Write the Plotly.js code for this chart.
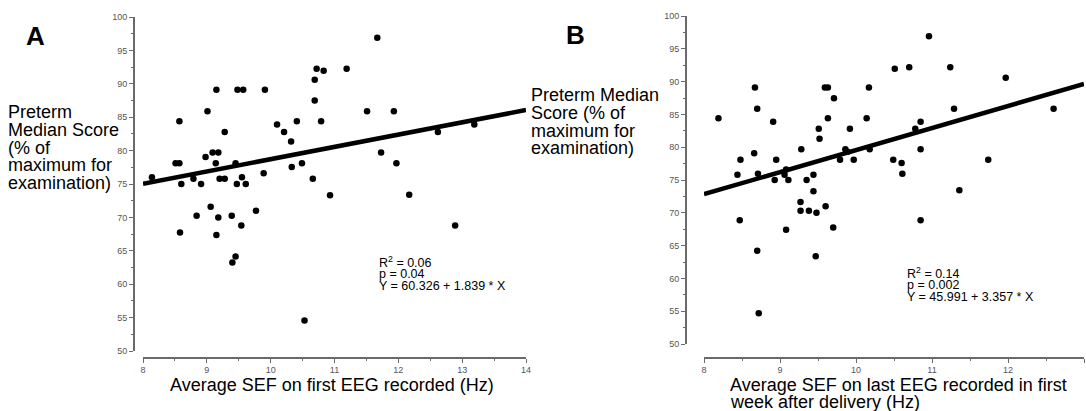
<!DOCTYPE html>
<html><head><meta charset="utf-8">
<script src="https://cdn.plot.ly/plotly-3.0.1.min.js"></script>
<style>html,body{margin:0;padding:0;background:#fff}#chart{width:1086px;height:411px}</style>
</head><body><div id="chart"></div>
<script>
// Panel A: average SEF on first EEG (Hz) vs preterm median score (%)
const sefFirstA = [8.14,8.51,8.57,8.57,8.60,8.58,8.79,8.84,8.91,8.98,9.01,9.06,9.09,9.18,9.14,9.15,9.15,9.18,9.20,9.28,9.28,9.39,9.40,9.45,9.45,9.47,9.48,9.57,9.55,9.54,9.61,9.77,9.89,9.91,10.10,10.21,10.32,10.33,10.41,10.49,10.53,10.66,10.69,10.69,10.72,10.79,10.83,10.93,11.19,11.51,11.67,11.73,11.93,11.97,12.17,12.62,12.89,13.19];
const scoreA = [76.0,78.1,78.1,84.4,75.0,67.75,75.8,70.25,75.0,79.05,85.9,71.6,79.7,79.7,78.1,89.1,67.35,70.0,75.8,75.8,82.8,70.25,63.25,64.15,78.1,75.0,89.1,89.1,76.0,68.8,75.0,71.0,76.6,89.1,83.9,82.8,81.35,77.55,84.4,78.1,54.55,75.8,90.6,87.5,92.25,84.4,91.95,73.3,92.25,85.9,96.9,79.7,85.9,78.1,73.4,82.8,68.8,83.9];
const fitCoefA = [60.326, 1.839];   // intercept, slope
const fitRangeA = [8, 14];
const statsA = ["R<sup>2</sup> = 0.06", "p = 0.04", "Y = 60.326 + 1.839 * X"];

// Panel B: average SEF on last EEG in first week after delivery (Hz)
const sefLastB = [8.19,8.44,8.48,8.47,8.66,8.67,8.70,8.71,8.70,8.72,8.91,8.93,8.95,9.06,9.08,9.11,9.08,9.27,9.27,9.28,9.35,9.38,9.44,9.44,9.48,9.47,9.51,9.52,9.59,9.63,9.60,9.63,9.71,9.70,9.79,9.86,9.89,9.92,9.97,10.14,10.17,10.18,10.49,10.51,10.60,10.61,10.70,10.78,10.85,10.85,10.85,10.96,11.24,11.29,11.36,11.74,11.97,12.60];
const scoreB = [84.43,75.81,78.09,68.86,79.06,89.1,85.85,75.96,64.2,54.67,83.87,75.0,78.09,75.81,76.6,75.0,67.4,71.65,70.33,79.7,75.0,70.33,75.81,73.28,70.0,63.39,82.81,81.29,89.1,89.1,71.0,84.43,87.47,67.75,78.09,79.7,79.3,82.81,78.09,84.43,89.1,79.7,78.09,91.94,77.59,75.96,92.19,82.81,83.87,79.7,68.86,96.9,92.19,85.85,73.43,78.09,90.57,85.85];
const fitCoefB = [45.991, 3.357];
const fitRangeB = [8, 13];
const statsB = ["R<sup>2</sup> = 0.14", "p = 0.002", "Y = 45.991 + 3.357 * X"];

const yTitleA = ["Preterm", "Median Score", "(% of", "maximum for", "examination)"];
const yTitleB = ["Preterm Median", "Score (% of", "maximum for", "examination)"];
const xTitleA = ["Average SEF on first EEG recorded (Hz)"];
const xTitleB = ["Average SEF on last EEG recorded in first", "week after delivery (Hz)"];

const W = 1086, H = 411;
const px = v => v / W;
const py = v => 1 - v / H;
const FONT = "Arial, 'Liberation Sans', sans-serif";

const fitY = (c, xs) => xs.map(x => c[0] + c[1] * x);

const traces = [
  {x: sefFirstA, y: scoreA, type: 'scatter', mode: 'markers', xaxis: 'x', yaxis: 'y',
   marker: {color: '#000', size: 6.5}},
  {x: fitRangeA, y: fitY(fitCoefA, fitRangeA), type: 'scatter', mode: 'lines', xaxis: 'x', yaxis: 'y',
   line: {color: '#000', width: 4.5}},
  {x: sefLastB, y: scoreB, type: 'scatter', mode: 'markers', xaxis: 'x2', yaxis: 'y2',
   marker: {color: '#000', size: 6.5}},
  {x: fitRangeB, y: fitY(fitCoefB, fitRangeB), type: 'scatter', mode: 'lines', xaxis: 'x2', yaxis: 'y2',
   line: {color: '#000', width: 4.5}}
];

const axisCommon = {
  showline: true, linecolor: '#6a6a6a', linewidth: 1.5, showgrid: false, zeroline: false,
  ticks: 'outside', ticklen: 4, tickwidth: 1, tickcolor: '#6a6a6a',
  tickfont: {family: FONT, size: 9, color: '#555'}, fixedrange: true
};

function xAx(d0, d1, range) {
  return Object.assign({}, axisCommon, {
    domain: [px(d0), px(d1)], range: range, anchor: 'free', position: py(357),
    dtick: 1, tick0: 8, minor: {dtick: 0.5, ticks: 'outside', ticklen: 2, tickcolor: '#6a6a6a'}
  });
}
function yAx(top, bottom, xpos) {
  return Object.assign({}, axisCommon, {
    domain: [py(bottom), py(top)], range: [50, 100], anchor: 'free', position: px(xpos),
    dtick: 5, tick0: 50, minor: {dtick: 2.5, ticks: 'outside', ticklen: 2, tickcolor: '#6a6a6a'}
  });
}

const annotations = [];
function addText(text, x, y, size, opts) {
  annotations.push(Object.assign({
    text: text, x: px(x), y: py(y), xref: 'paper', yref: 'paper',
    xanchor: 'left', yanchor: 'middle', showarrow: false, align: 'left', borderpad: 0,
    font: {family: FONT, size: size, color: '#000'}
  }, opts || {}));
}
// Panel letters
addText('<b>A</b>', 25, 36, 26);
addText('<b>B</b>', 565, 35, 26);
// Y titles
yTitleA.forEach((t, i) => addText(t, 7, 112 + i * 17.8, 18));
yTitleB.forEach((t, i) => addText(t, 530, 95 + i * 17.8, 18));
// X titles
xTitleA.forEach((t, i) => addText(t, 332, 385, 18, {xanchor: 'center'}));
xTitleB.forEach((t, i) => addText(t, 729, 385 + i * 17, 18));
// Stats
statsA.forEach((t, i) => addText(t, 378, 262 + i * 12, 12.5));
statsB.forEach((t, i) => addText(t, 906, 273 + i * 12, 12.5));

const layout = {
  width: W, height: H, margin: {l: 0, r: 0, t: 0, b: 0},
  paper_bgcolor: '#fff', plot_bgcolor: 'rgba(0,0,0,0)', showlegend: false,
  xaxis: xAx(143, 526, [8, 14]),
  yaxis: yAx(17, 351, 133),
  xaxis2: xAx(704, 1084, [8, 13]),
  yaxis2: yAx(16, 344, 685),
  annotations: annotations
};

Plotly.newPlot('chart', traces, layout, {displayModeBar: false, staticPlot: true});
</script>
</body></html>
